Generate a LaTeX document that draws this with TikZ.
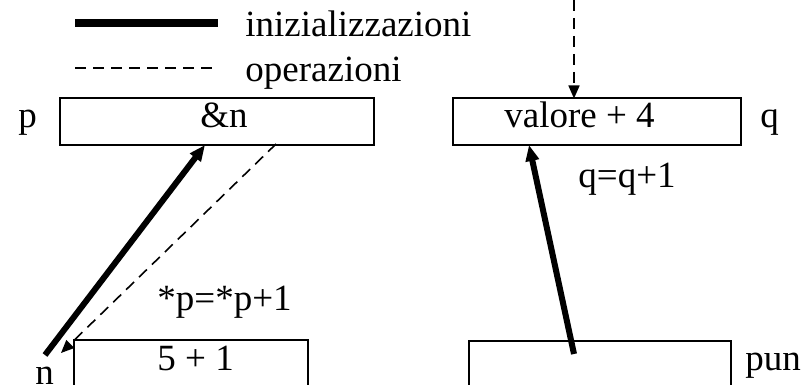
\documentclass[tikz,border=0pt]{standalone}
\usepackage{fontspec}
\setmainfont{Liberation Serif}
\usetikzlibrary{arrows.meta}
\begin{document}
\begin{tikzpicture}[x=0.5pt,y=-0.5pt,
  txt/.style={inner sep=0pt,anchor=base west,font=\fontsize{18.5}{22}\selectfont},
  cell/.style={draw,line width=0.8pt,inner sep=0pt,minimum height=23.5pt},
  dsh/.style={line width=0.8pt,dash pattern=on 5.5pt off 3.5pt},
  init/.style={line width=3pt,-{Triangle[length=8pt,width=6.5pt]}},
  oper/.style={dsh,-{Triangle[length=6.5pt,width=5.5pt]}}]
\useasboundingbox (0,0) rectangle (809,385);
% legend
\coordinate (l1a) at (75,23); \coordinate (l1b) at (218,23);
\draw[line width=4pt] (l1a) -- (l1b);
\node[txt] (linit) at (245,37) {inizializzazioni};
\coordinate (l2a) at (75,68); \coordinate (l2b) at (216,68);
\draw[dsh] (l2a) -- (l2b);
\node[txt] (loper) at (245,82) {operazioni};
% boxes
\node[cell,minimum width=157pt] (bp) at (217,121.5) {};
\node[cell,minimum width=117pt,minimum height=24pt] (bn) at (191,364) {};
\node[cell,minimum width=144pt] (bq) at (597,121.5) {};
\node[cell,minimum width=131pt,minimum height=24pt] (bpun) at (600,365) {};
% texts
\node[txt] (tp) at (18,128) {p};
\node[txt] (tamp) at (200,128) {\&n};
\node[txt] (tval) at (504,128) {valore + 4};
\node[txt] (tq) at (760,128) {q};
\node[txt] (tqq) at (578,188) {q=q+1};
\node[txt] (tpp) at (157,310) {*p=*p+1};
\node[txt] (t51) at (157,370) {5 + 1};
\node[txt] (tn) at (35,384) {n};
\node[txt] (tpun) at (745,370) {pun};
% connectors
\coordinate (s1) at (45,355); \coordinate (e1) at (205,145);
\draw[init] (s1) -- (e1);
\coordinate (s2) at (276,144); \coordinate (e2) at (61,353);
\draw[oper] (s2) -- (e2);
\coordinate (s3) at (574,0); \coordinate (e3) at (574,98.5);
\draw[oper] (s3) -- (e3);
\coordinate (s4) at (574,354); \coordinate (e4) at (529,145);
\draw[init] (s4) -- (e4);
\end{tikzpicture}
\end{document}
